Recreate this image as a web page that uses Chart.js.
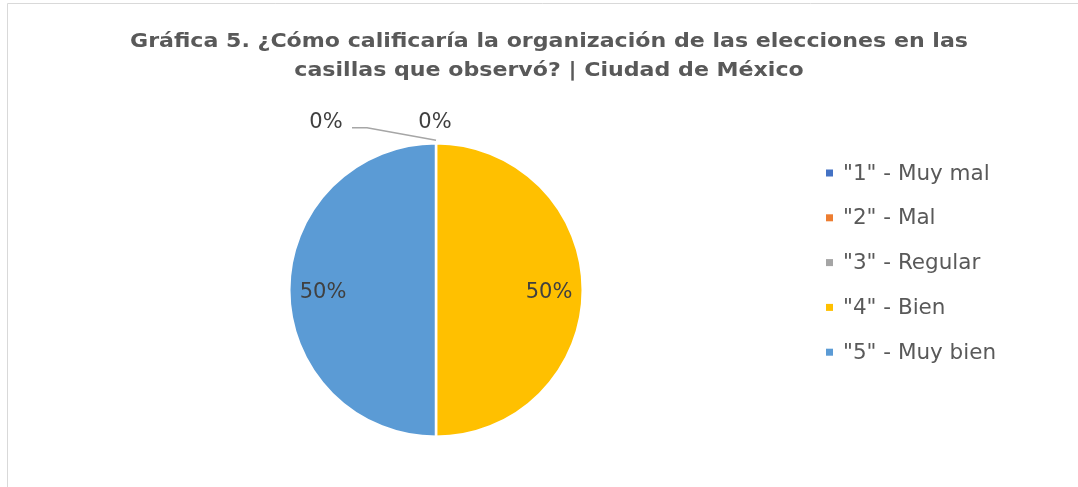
<!DOCTYPE html>
<html><head><meta charset="utf-8">
<script src="https://cdn.jsdelivr.net/npm/chart.js@4/dist/chart.umd.min.js"></script>
<style>html,body{margin:0;padding:0;background:#fff;}#wrap{width:1078px;height:487px;position:relative;}</style>
</head><body><div id="wrap"><canvas id="c" width="1078" height="487"></canvas></div>
<script>
const titleLines = ["Gráfica 5. ¿Cómo calificaría la organización de las elecciones en las", "casillas que observó? | Ciudad de México"];
const categories = ['"1" - Muy mal', '"2" - Mal', '"3" - Regular', '"4" - Bien', '"5" - Muy bien'];
const values = [0, 0, 0, 50, 50];
const valueLabels = ["0%", "0%", "", "50%", "50%"];
const colors = ["#4472C4", "#ED7D31", "#A5A5A5", "#FFC000", "#5B9BD5"];

const FONT = "'DejaVu Sans', sans-serif";

const decor = {
  id: 'decor',
  afterDraw(chart) {
    const ctx = chart.ctx;
    ctx.save();
    // frame
    ctx.strokeStyle = '#d9d9d9'; ctx.lineWidth = 1;
    ctx.beginPath(); ctx.moveTo(7.5, 487); ctx.lineTo(7.5, 3.5); ctx.lineTo(1078, 3.5); ctx.stroke();
    // title (first line fitted to 838px width)
    ctx.fillStyle = '#595959'; ctx.textAlign = 'center'; ctx.textBaseline = 'middle';
    ctx.font = "bold 20px " + FONT;
    const sx = 838 / ctx.measureText(titleLines[0]).width;
    ctx.save(); ctx.translate(549, 0); ctx.scale(sx, 1);
    ctx.fillText(titleLines[0], 0, 42);
    ctx.fillText(titleLines[1], 0, 71);
    ctx.restore();
    // data labels
    const meta = chart.getDatasetMeta(0);
    ctx.font = "21px " + FONT; ctx.fillStyle = '#404040';
    meta.data.forEach((arc, i) => {
      const txt = valueLabels[i];
      if (!txt) return;
      const mid = (arc.startAngle + arc.endAngle) / 2;
      const r = arc.outerRadius;
      if (values[i] > 0) {
        ctx.fillText(txt, arc.x + Math.cos(mid) * r * 0.77, arc.y + Math.sin(mid) * r * 0.77 + 3);
      } else if (i === 0) {
        const lx = arc.x - 110, ly = arc.y - r * 1.14;
        ctx.fillText(txt, lx, ly);
        ctx.strokeStyle = '#a6a6a6'; ctx.lineWidth = 1.5;
        ctx.beginPath(); ctx.moveTo(lx + 26, ly + 5); ctx.lineTo(lx + 41, ly + 5);
        ctx.lineTo(arc.x + Math.cos(mid) * r, arc.y + Math.sin(mid) * r - 3); ctx.stroke();
      } else {
        ctx.fillText(txt, arc.x + Math.cos(mid) * r * 1.14 - 1, arc.y + Math.sin(mid) * r * 1.14);
      }
    });
    // legend
    ctx.textAlign = 'left'; ctx.font = "21.5px " + FONT;
    categories.forEach((c, i) => {
      const y = 173 + i * 44.8;
      ctx.fillStyle = colors[i]; ctx.fillRect(826, y - 3.5, 7, 7);
      ctx.fillStyle = '#595959'; ctx.fillText(c, 843, y + 1);
    });
    ctx.restore();
  }
};

new Chart(document.getElementById('c'), {
  type: 'pie',
  data: { labels: categories, datasets: [{ data: values, backgroundColor: colors, borderColor: '#ffffff', borderWidth: 2.5 }] },
  options: {
    responsive: false, animation: false,
    layout: { padding: { top: 142, bottom: 49, left: 288, right: 494 } },
    plugins: { legend: { display: false }, title: { display: false }, tooltip: { enabled: false } }
  },
  plugins: [decor]
});
</script></body></html>
